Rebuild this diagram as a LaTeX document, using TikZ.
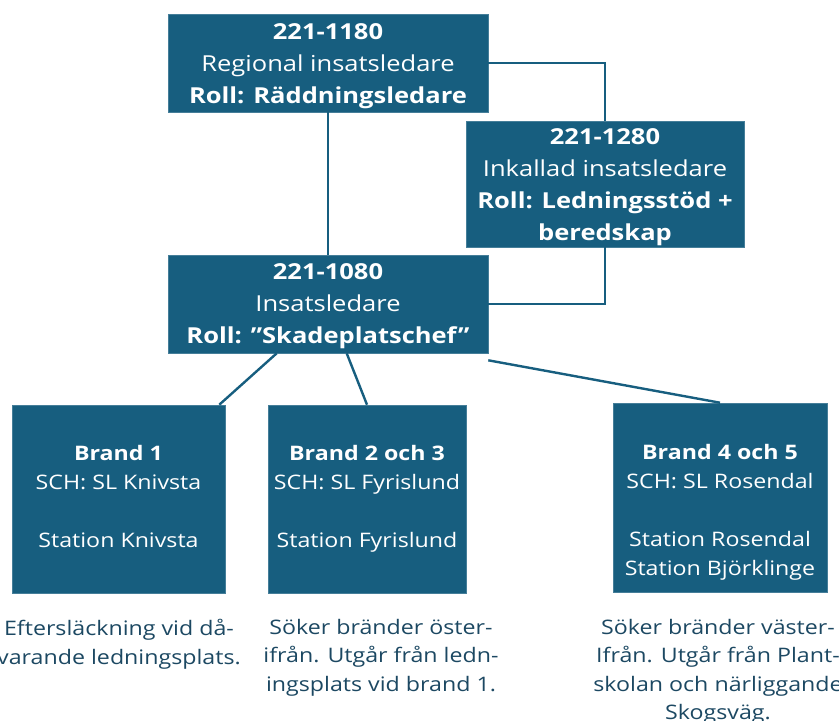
\documentclass[tikz,border=0pt]{standalone}
\usepackage{fontspec}
\setmainfont{Open Sans}[FakeStretch=1.16]
\definecolor{boxblue}{RGB}{23,94,127}
\definecolor{captxt}{RGB}{28,72,98}
\begin{document}
\begin{tikzpicture}[x=1pt,y=-1pt,
  box/.style={draw=boxblue!80!white,line width=0.6pt,fill=boxblue,rectangle,inner sep=0pt},
  toptext/.style={text=white,align=center,font=\fontsize{22}{32}\selectfont,inner sep=0pt},
  lowtext/.style={text=white,align=center,font=\fontsize{20}{29.5}\selectfont,inner sep=0pt,anchor=north},
  caption/.style={text=captxt,align=center,font=\fontsize{20}{28.5}\selectfont,inner sep=0pt,anchor=north},
  link/.style={draw=boxblue,line width=2.4pt}]
\useasboundingbox (0,0) rectangle (839,721);

% upper command boxes
\node[box,minimum width=320pt,minimum height=98pt] (A) at (328,63) {};
\node[toptext] (At) at ([yshift=-3.5pt]A.center) {\textbf{221-1180}\\Regional insatsledare\\\textbf{Roll: Räddningsledare}};
\node[box,minimum width=278pt,minimum height=126pt] (B) at (605,184) {};
\node[toptext] (Bt) at ([yshift=-3pt]B.center) {\textbf{221-1280}\\Inkallad insatsledare\\\textbf{Roll: Ledningsstöd +}\\\textbf{beredskap}};
\node[box,minimum width=320pt,minimum height=98pt] (C) at (328,304) {};
\node[toptext] (Ct) at ([yshift=-2.5pt]C.center) {\textbf{221-1080}\\Insatsledare\\\textbf{Roll: ”Skadeplatschef”}};

% fire sector boxes
\node[box,minimum width=213pt,minimum height=188pt] (D) at (118.5,499) {};
\node[lowtext] (Dt) at ([yshift=-40pt]D.north) {\textbf{Brand 1}\\SCH: SL Knivsta\\[28pt]Station Knivsta};
\node[box,minimum width=198pt,minimum height=188pt] (E) at (367,499) {};
\node[lowtext] (Et) at ([yshift=-40pt]E.north) {\textbf{Brand 2 och 3}\\SCH: SL Fyrislund\\[28pt]Station Fyrislund};
\node[box,minimum width=214pt,minimum height=189pt] (F) at (720,497.5) {};
\node[lowtext] (Ft) at ([yshift=-41pt]F.north) {\textbf{Brand 4 och 5}\\SCH: SL Rosendal\\[28pt]Station Rosendal\\Station Björklinge};

% task descriptions
\node[caption] (Dc) at (119,619) {Eftersläckning vid då-\\varande ledningsplats.};
\node[caption] (Ec) at (381,619) {Söker bränder öster-\\ifrån. Utgår från ledn-\\ingsplats vid brand 1.};
\node[caption] (Fc) at (718,619) {Söker bränder väster-\\Ifrån. Utgår från Plant-\\skolan och närliggande\\Skogsväg.};

% connectors
\draw[link] (A.south) -- (C.north);
\draw[link] (A.east) -| (B.north);
\draw[link] (B.south) |- (C.east);
\draw[link] ([xshift=109pt]C.south west) -- ([xshift=-6pt]D.north east);
\draw[link] ([xshift=179pt]C.south west) -- (E.north);
\draw[link] ([yshift=-7pt]C.south east) -- (F.north);
\end{tikzpicture}
\end{document}
